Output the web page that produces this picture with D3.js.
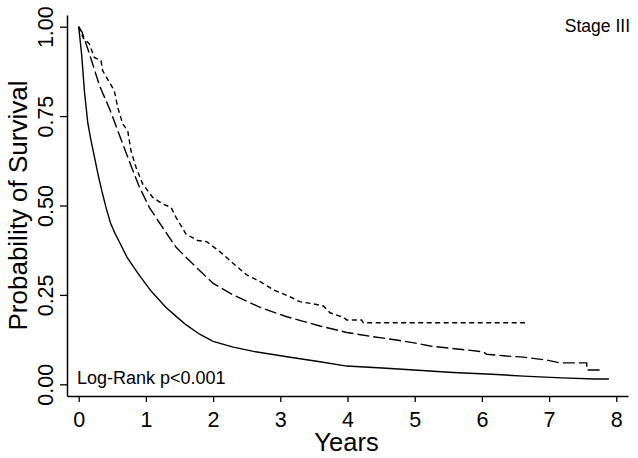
<!DOCTYPE html>
<html><head><meta charset="utf-8">
<script src="https://cdn.jsdelivr.net/npm/d3@7"></script>
<style>body{margin:0;background:#fff}svg{display:block}</style>
</head><body>
<svg id="c" width="638" height="458"></svg>
<script>
const xTicks=[0,1,2,3,4,5,6,7,8];
const yTicks=[0,0.25,0.5,0.75,1];
const yTickLabels=["0.00","0.25","0.50","0.75","1.00"];
const xTitle="Years";
const yTitle="Probability of Survival";
const panelLabel="Stage III";
const testLabel="Log-Rank p<0.001";

// lowest curve (solid)
const solidTime=[0,0.02,0.045,0.085,0.136,0.185,0.235,0.29,0.345,0.41,0.475,0.54,0.60,0.72,0.89,1.08,1.30,1.45,1.60,1.80,2.0,2.3,2.6,3.1,3.59,3.99,4.58,4.99,5.57,6.15,6.62,7.19,7.68,7.89];
const solidSurv=[1,0.965,0.92,0.82,0.73,0.68,0.635,0.585,0.54,0.492,0.45,0.422,0.40,0.355,0.308,0.260,0.215,0.19,0.166,0.140,0.120,0.104,0.092,0.077,0.063,0.051,0.045,0.040,0.033,0.028,0.023,0.018,0.015,0.015];

// middle curve (long dashes)
const longTime=[0,0.05,0.15,0.31,0.46,0.60,0.75,0.90,1.05,1.25,1.45,1.646,1.80,2.003,2.30,2.70,3.095,3.44,3.59,3.99,4.38,4.73,4.99,5.23,5.77,6.02,6.07,6.37,6.62,6.96,7.16,7.56,7.56,7.81];
const longSurv=[1,0.985,0.93,0.835,0.770,0.70,0.625,0.553,0.495,0.438,0.383,0.346,0.318,0.282,0.250,0.215,0.189,0.171,0.163,0.145,0.133,0.124,0.116,0.107,0.096,0.091,0.084,0.079,0.076,0.068,0.060,0.060,0.040,0.040];

// top curve (short dashes)
const shortTime=[0,0.068,0.158,0.232,0.332,0.357,0.455,0.53,0.58,0.655,0.73,0.778,0.853,0.952,1.10,1.25,1.373,1.448,1.597,1.77,1.905,2.10,2.30,2.50,2.70,2.90,3.14,3.29,3.49,3.64,3.74,3.94,3.99,4.21,4.235,6.64];
const shortSurv=[1,0.968,0.952,0.914,0.905,0.877,0.845,0.821,0.775,0.728,0.709,0.653,0.607,0.560,0.523,0.504,0.495,0.467,0.420,0.402,0.399,0.371,0.338,0.306,0.287,0.264,0.245,0.231,0.225,0.219,0.200,0.187,0.180,0.180,0.172,0.172];

const series=[
  {t:solidTime,s:solidSurv,dash:null},
  {t:longTime,s:longSurv,dash:"12,4"},
  {t:shortTime,s:shortSurv,dash:"5,3.5"}
];

const svg=d3.select("#c");
const font="'Liberation Sans', Arial, Helvetica, sans-serif";
const x=d3.scaleLinear().domain([-0.174,8.174]).range([67,628]);
const y=d3.scaleLinear().domain([-0.0327,1.0327]).range([396,15]);

// axes
const xAxis=svg.append("g").attr("transform","translate(0,396)")
  .call(d3.axisBottom(x).tickValues(xTicks).tickSize(6).tickSizeOuter(0).tickPadding(6).tickFormat(d3.format("d")));
xAxis.select(".domain").attr("stroke","#000").attr("stroke-width",1.5);
xAxis.selectAll(".tick line").attr("stroke","#000").attr("stroke-width",1.3);
xAxis.selectAll(".tick text").attr("font-family",font).attr("font-size",21.5).attr("fill","#000")
  .attr("y",null).attr("dy",null).attr("transform","translate(0,30.7)");

const yAxis=svg.append("g").attr("transform","translate(67,0)")
  .call(d3.axisLeft(y).tickValues(yTicks).tickSize(7).tickSizeOuter(0).tickFormat((d,i)=>yTickLabels[i]));
yAxis.select(".domain").attr("stroke","#000").attr("stroke-width",1.5);
yAxis.selectAll(".tick line").attr("stroke","#000").attr("stroke-width",1.3);
yAxis.selectAll(".tick text").attr("font-family",font).attr("font-size",21.5).attr("fill","#000")
  .attr("x",null).attr("dy",null).attr("text-anchor","middle")
  .attr("transform","translate(-13.7,0) rotate(-90)");

// curves
const line=d3.line().x(d=>x(d[0])).y(d=>y(d[1])).curve(d3.curveLinear);
series.forEach(sr=>{
  const pts=sr.t.map((t,i)=>[t,sr.s[i]]);
  svg.append("path").attr("d",line(pts)).attr("fill","none").attr("stroke","#000")
    .attr("stroke-width",1.4).attr("stroke-dasharray",sr.dash).attr("stroke-linejoin","miter");
});

// titles
svg.append("text").attr("x",346.5).attr("y",450.5).attr("text-anchor","middle")
  .attr("font-family",font).attr("font-size",25.5).text(xTitle);
svg.append("text").attr("transform","translate(27,205.5) rotate(-90)").attr("text-anchor","middle")
  .attr("font-family",font).attr("font-size",26).text(yTitle);
svg.append("text").attr("x",630).attr("y",32.3).attr("text-anchor","end")
  .attr("font-family",font).attr("font-size",17.5).text(panelLabel);
svg.append("text").attr("x",77).attr("y",384.3)
  .attr("font-family",font).attr("font-size",18).text(testLabel);
</script>
</body></html>
